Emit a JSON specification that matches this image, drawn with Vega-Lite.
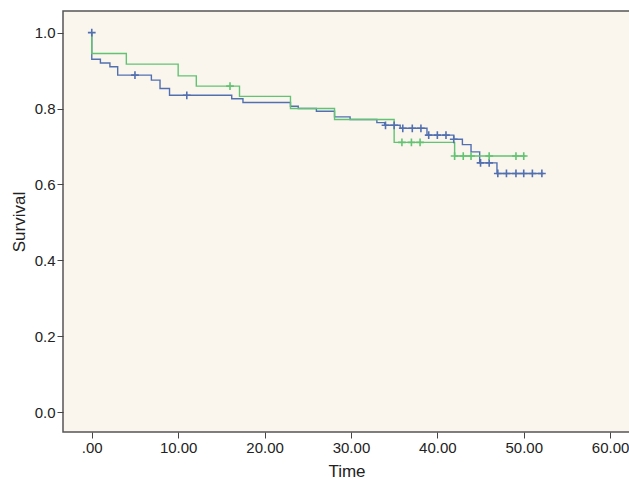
{
  "$schema": "https://vega.github.io/schema/vega-lite/v6.json",
  "autosize": "none",
  "width": 567,
  "height": 421,
  "padding": {"left": 63, "top": 11, "right": 0, "bottom": 49},
  "background": "#FFFFFF",
  "config": {
    "view": {"fill": "#FAF6EE", "stroke": "#555555", "strokeWidth": 1.5},
    "font": "Liberation Sans",
    "axis": {
      "labelFont": "Liberation Sans",
      "titleFont": "Liberation Sans",
      "labelColor": "#222222",
      "titleColor": "#222222",
      "tickColor": "#444444",
      "domain": false,
      "grid": false,
      "titleFontWeight": "normal"
    }
  },
  "datasets": {
    "steps": [
      {"group": "1", "ord": 1, "t": 0, "s": 1.0},
      {"group": "1", "ord": 2, "t": 0, "s": 0.930},
      {"group": "1", "ord": 3, "t": 1.0, "s": 0.920},
      {"group": "1", "ord": 4, "t": 2.1, "s": 0.910},
      {"group": "1", "ord": 5, "t": 3.0, "s": 0.888},
      {"group": "1", "ord": 6, "t": 6.9, "s": 0.875},
      {"group": "1", "ord": 7, "t": 7.9, "s": 0.853},
      {"group": "1", "ord": 8, "t": 9.0, "s": 0.835},
      {"group": "1", "ord": 9, "t": 16.2, "s": 0.826},
      {"group": "1", "ord": 10, "t": 17.5, "s": 0.816},
      {"group": "1", "ord": 11, "t": 23.0, "s": 0.806},
      {"group": "1", "ord": 12, "t": 23.9, "s": 0.800},
      {"group": "1", "ord": 13, "t": 26.0, "s": 0.793},
      {"group": "1", "ord": 14, "t": 28.1, "s": 0.778},
      {"group": "1", "ord": 15, "t": 29.9, "s": 0.771},
      {"group": "1", "ord": 16, "t": 33.0, "s": 0.763},
      {"group": "1", "ord": 17, "t": 33.9, "s": 0.756},
      {"group": "1", "ord": 18, "t": 35.7, "s": 0.748},
      {"group": "1", "ord": 19, "t": 38.8, "s": 0.730},
      {"group": "1", "ord": 20, "t": 41.9, "s": 0.719},
      {"group": "1", "ord": 21, "t": 42.9, "s": 0.705},
      {"group": "1", "ord": 22, "t": 43.9, "s": 0.686},
      {"group": "1", "ord": 23, "t": 44.9, "s": 0.657},
      {"group": "1", "ord": 24, "t": 46.9, "s": 0.629},
      {"group": "1", "ord": 25, "t": 52.3, "s": 0.629},
      {"group": "2", "ord": 1, "t": 0, "s": 1.0},
      {"group": "2", "ord": 2, "t": 0, "s": 0.945},
      {"group": "2", "ord": 3, "t": 4.0, "s": 0.917},
      {"group": "2", "ord": 4, "t": 10.0, "s": 0.886},
      {"group": "2", "ord": 5, "t": 12.1, "s": 0.859},
      {"group": "2", "ord": 6, "t": 17.1, "s": 0.832},
      {"group": "2", "ord": 7, "t": 23.0, "s": 0.800},
      {"group": "2", "ord": 8, "t": 28.1, "s": 0.771},
      {"group": "2", "ord": 9, "t": 35.0, "s": 0.711},
      {"group": "2", "ord": 10, "t": 42.0, "s": 0.675},
      {"group": "2", "ord": 11, "t": 50.2, "s": 0.675}
    ],
    "censors": [
      {"group": "1", "t": 0, "s": 1.0},
      {"group": "1", "t": 5.0, "s": 0.888},
      {"group": "1", "t": 11.0, "s": 0.835},
      {"group": "1", "t": 34.0, "s": 0.756},
      {"group": "1", "t": 35.0, "s": 0.756},
      {"group": "1", "t": 36.0, "s": 0.748},
      {"group": "1", "t": 37.1, "s": 0.748},
      {"group": "1", "t": 38.1, "s": 0.748},
      {"group": "1", "t": 39.0, "s": 0.730},
      {"group": "1", "t": 40.0, "s": 0.730},
      {"group": "1", "t": 41.0, "s": 0.730},
      {"group": "1", "t": 41.9, "s": 0.719},
      {"group": "1", "t": 45.0, "s": 0.657},
      {"group": "1", "t": 46.0, "s": 0.657},
      {"group": "1", "t": 47.0, "s": 0.629},
      {"group": "1", "t": 48.0, "s": 0.629},
      {"group": "1", "t": 49.1, "s": 0.629},
      {"group": "1", "t": 50.0, "s": 0.629},
      {"group": "1", "t": 51.0, "s": 0.629},
      {"group": "1", "t": 52.1, "s": 0.629},
      {"group": "2", "t": 16.0, "s": 0.859},
      {"group": "2", "t": 35.9, "s": 0.711},
      {"group": "2", "t": 37.0, "s": 0.711},
      {"group": "2", "t": 38.0, "s": 0.711},
      {"group": "2", "t": 42.0, "s": 0.675},
      {"group": "2", "t": 43.0, "s": 0.675},
      {"group": "2", "t": 43.9, "s": 0.675},
      {"group": "2", "t": 46.0, "s": 0.675},
      {"group": "2", "t": 49.1, "s": 0.675},
      {"group": "2", "t": 50.0, "s": 0.675}
    ]
  },
  "layer": [
    {
      "data": {"name": "steps"},
      "mark": {"type": "line", "interpolate": "step-after", "strokeWidth": 1.4, "clip": true},
      "encoding": {
        "x": {
          "field": "t", "type": "quantitative",
          "scale": {"domain": [-3.33, 62.3], "nice": false, "zero": false},
          "axis": {
            "values": [0, 10, 20, 30, 40, 50, 60],
            "labelExpr": "datum.value == 0 ? '.00' : format(datum.value, '.2f')",
            "labelFontSize": 15,
            "tickSize": 6,
            "labelPadding": 2,
            "title": "Time",
            "titleFontSize": 17,
            "titlePadding": 8
          }
        },
        "y": {
          "field": "s", "type": "quantitative",
          "scale": {"domain": [-0.052, 1.057], "nice": false, "zero": false},
          "axis": {
            "values": [0, 0.2, 0.4, 0.6, 0.8, 1.0],
            "format": ".1f",
            "labelFontSize": 15,
            "tickSize": 6,
            "labelPadding": 2,
            "title": "Survival",
            "titleFontSize": 17,
            "titlePadding": 6
          }
        },
        "order": {"field": "ord", "type": "quantitative"},
        "color": {
          "field": "group", "type": "nominal",
          "scale": {"domain": ["1", "2"], "range": ["#5270B0", "#62C472"]},
          "legend": null
        }
      }
    },
    {
      "data": {"name": "censors"},
      "mark": {"type": "point", "shape": "M-1,0L1,0M0,-1L0,1", "filled": false, "strokeWidth": 1.6, "size": 60, "opacity": 1},
      "encoding": {
        "x": {"field": "t", "type": "quantitative"},
        "y": {"field": "s", "type": "quantitative"},
        "color": {
          "field": "group", "type": "nominal",
          "scale": {"domain": ["1", "2"], "range": ["#3F63AC", "#4FBF62"]},
          "legend": null
        }
      }
    }
  ]
}
